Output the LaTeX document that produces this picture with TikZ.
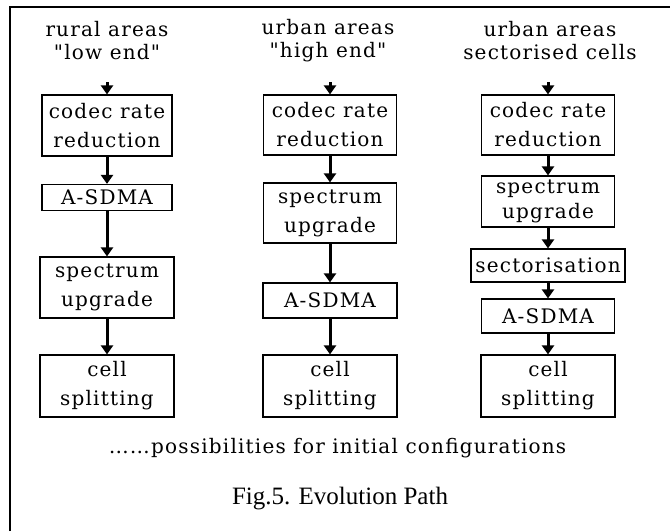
\documentclass[tikz,border=0pt]{standalone}
\usepackage{fontspec}
\setmainfont{Liberation Serif}
\newfontfamily\stagefont[LetterSpace=6]{DejaVu Serif}
\usetikzlibrary{arrows.meta}

\begin{document}
\begin{tikzpicture}[x=1pt,y=-1pt,
  txt/.style={font=\stagefont\fontsize{20}{29}\selectfont},
  stage/.style={txt, draw, line width=1.2pt, inner sep=0pt, align=center},
  heading/.style={txt, inner sep=0pt, align=center, font=\stagefont\fontsize{20}{23}\selectfont},
  flow/.style={line width=3pt, -{Triangle[width=12pt,length=9pt]}}]
  \useasboundingbox (0,0) rectangle (670,531);

  % frame (only the top and left edges fall inside the page)
  \draw[line width=1.8pt] (10,531) -- (10,7) -- (670,7);

  % column 1: rural areas
  \node[heading] (t1) at (107,41) {rural areas\\"low end"};
  \coordinate (s1) at (107,82);
  \node[stage, minimum width=130pt, minimum height=61pt] (a1) at (107,125.5) {codec rate\\reduction};
  \node[stage, minimum width=130pt, minimum height=26pt] (b1) at (107,197.5) {A-SDMA};
  \node[stage, minimum width=134pt, minimum height=61pt] (c1) at (107,287.5) {spectrum\\upgrade};
  \node[stage, minimum width=134pt, minimum height=62pt] (d1) at (107,386) {cell\\splitting};
  \draw[flow] (s1) -- (a1.north);
  \draw[flow] (a1) -- (b1);
  \draw[flow] (b1) -- (c1);
  \draw[flow] (c1) -- (d1);

  % column 2: urban areas, high end
  \node[heading] (t2) at (328,41) {urban areas\\"high end"};
  \coordinate (s2) at (330,82);
  \node[stage, minimum width=133pt, minimum height=60pt] (a2) at (330,125) {codec rate\\reduction};
  \node[stage, minimum width=133pt, minimum height=60pt] (b2) at (330,213) {spectrum\\upgrade};
  \node[stage, minimum width=134pt, minimum height=35pt] (c2) at (330,300.5) {A-SDMA};
  \node[stage, minimum width=134pt, minimum height=62pt] (d2) at (330,386) {cell\\splitting};
  \draw[flow] (s2) -- (a2.north);
  \draw[flow] (a2) -- (b2);
  \draw[flow] (b2) -- (c2);
  \draw[flow] (c2) -- (d2);

  % column 3: urban areas, sectorised cells
  \node[heading] (t3) at (550,41) {urban areas\\sectorised cells};
  \coordinate (s3) at (548,82);
  \node[stage, minimum width=133pt, minimum height=60pt] (a3) at (548,125) {codec rate\\reduction};
  \node[stage, minimum width=133pt, minimum height=51pt, font=\stagefont\fontsize{20}{25}\selectfont] (b3) at (548,201.5) {spectrum\\upgrade};
  \node[stage, minimum width=154pt, minimum height=33pt] (c3) at (548,265.5) {sectorisation};
  \node[stage, minimum width=133pt, minimum height=34pt] (d3) at (548,316) {A-SDMA};
  \node[stage, minimum width=134pt, minimum height=62pt] (e3) at (548,386) {cell\\splitting};
  \draw[flow] (s3) -- (a3.north);
  \draw[flow] (a3) -- (b3);
  \draw[flow] (b3) -- (c3);
  \draw[flow] (c3) -- (d3);
  \draw[flow] (d3) -- (e3);

  % notes below the columns
  \node[txt, inner sep=0pt, anchor=base] (note) at (337.5,453) {……possibilities for initial configurations};
  \node[inner sep=0pt, anchor=base, font=\fontsize{25}{29}\selectfont] (cap) at (340,504) {Fig.5. Evolution Path};
\end{tikzpicture}
\end{document}
